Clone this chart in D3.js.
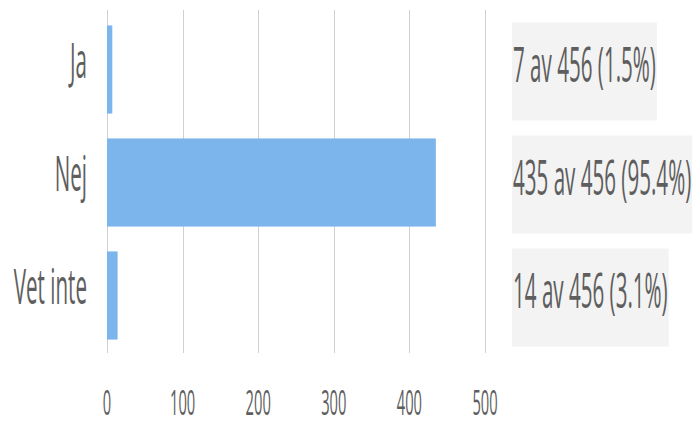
<!DOCTYPE html>
<html><head><meta charset="utf-8">
<script src="https://cdn.jsdelivr.net/npm/d3@7"></script>
<style>html,body{margin:0;padding:0;background:#fff;}svg{display:block;}</style>
</head><body>
<svg id="c" width="695" height="425"></svg>
<script>
const categories = ["Ja", "Nej", "Vet inte"];
const counts = [7, 435, 14];
const total = 456;
const percentLabels = ["1.5%", "95.4%", "3.1%"];
const xTicks = [0, 100, 200, 300, 400, 500];

const svg = d3.select("#c");
const font = "'Open Sans', sans-serif";
const textColor = "#5e5e5e";

const x = d3.scaleLinear().domain([0, 500]).range([107, 485]);
const y = d3.scaleBand().domain(categories).range([13, 352]).paddingInner(0.22).paddingOuter(0.11);

// gridlines
svg.append("g").selectAll("line").data(xTicks).join("line")
  .attr("x1", d => Math.round(x(d)) + 0.5).attr("x2", d => Math.round(x(d)) + 0.5)
  .attr("y1", 10).attr("y2", 353)
  .attr("stroke", "#d0d0d0").attr("stroke-width", 1);

// bars
svg.append("g").selectAll("rect").data(categories).join("rect")
  .attr("x", x(0)).attr("y", d => y(d))
  .attr("width", (d, i) => x(counts[i]) - x(0))
  .attr("height", y.bandwidth())
  .attr("fill", "#7cb5ec");

// x tick labels
const sxTick = 0.42;
svg.append("g").selectAll("text").data(xTicks).join("text")
  .attr("transform", d => `translate(${x(d)},415) scale(${sxTick},1)`)
  .attr("text-anchor", "middle")
  .attr("font-family", font).attr("font-size", 35)
  .attr("fill", textColor)
  .text(d => d);

// y category labels
const sxCat = 0.42;
svg.append("g").selectAll("text").data(categories).join("text")
  .attr("transform", d => `translate(87,${y(d) + y.bandwidth() / 2 + 8}) scale(${sxCat},1)`)
  .attr("text-anchor", "end")
  .attr("font-family", font).attr("font-size", 49)
  .attr("fill", textColor)
  .text(d => d);

// right side labels in boxes
const sxLab = 0.42;
const labG = svg.append("g");
categories.forEach((c, i) => {
  const cy = y(c) + y.bandwidth() / 2 + 2;
  const g = labG.append("g");
  const rect = g.append("rect").attr("fill", "#f3f3f3");
  const t = g.append("text")
    .attr("transform", `translate(513,${cy + 10}) scale(${sxLab},1)`)
    .attr("font-family", font).attr("font-size", 49)
    .attr("fill", textColor)
    .text(`${counts[i]} av ${total} (${percentLabels[i]})`);
  const w = t.node().getComputedTextLength() * sxLab;
  rect.attr("x", 512).attr("y", cy - 49).attr("width", w + 2).attr("height", 98);
});
</script>
</body></html>
